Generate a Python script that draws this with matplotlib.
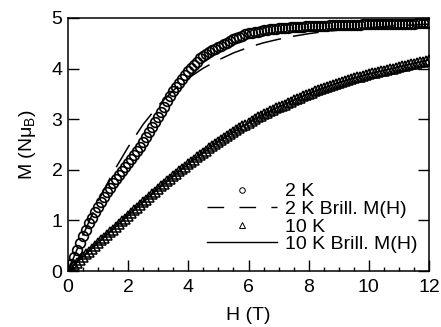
import matplotlib
matplotlib.use('Agg')
import matplotlib.pyplot as plt
from matplotlib.lines import Line2D

plt.rcParams['font.family'] = ['Liberation Sans', 'DejaVu Sans']
plt.rcParams['mathtext.fontset'] = 'custom'
plt.rcParams['mathtext.rm'] = 'Liberation Sans'
plt.rcParams['mathtext.it'] = 'Liberation Sans'
plt.rcParams['mathtext.bf'] = 'Liberation Sans:bold'

# measured field (T), 0.1 T steps
field_t = [
    0.0, 0.1, 0.2, 0.3, 0.4, 0.5, 0.6, 0.7, 0.8, 0.9,
    1.0, 1.1, 1.2, 1.3, 1.4, 1.5, 1.6, 1.7, 1.8, 1.9,
    2.0, 2.1, 2.2, 2.3, 2.4, 2.5, 2.6, 2.7, 2.8, 2.9,
    3.0, 3.1, 3.2, 3.3, 3.4, 3.5, 3.6, 3.7, 3.8, 3.9,
    4.0, 4.1, 4.2, 4.3, 4.4, 4.5, 4.6, 4.7, 4.8, 4.9,
    5.0, 5.1, 5.2, 5.3, 5.4, 5.5, 5.6, 5.7, 5.8, 5.9,
    6.0, 6.1, 6.2, 6.3, 6.4, 6.5, 6.6, 6.7, 6.8, 6.9,
    7.0, 7.1, 7.2, 7.3, 7.4, 7.5, 7.6, 7.7, 7.8, 7.9,
    8.0, 8.1, 8.2, 8.3, 8.4, 8.5, 8.6, 8.7, 8.8, 8.9,
    9.0, 9.1, 9.2, 9.3, 9.4, 9.5, 9.6, 9.7, 9.8, 9.9,
    10.0, 10.1, 10.2, 10.3, 10.4, 10.5, 10.6, 10.7, 10.8, 10.9,
    11.0, 11.1, 11.2, 11.3, 11.4, 11.5, 11.6, 11.7, 11.8, 11.9,
    12.0,
]

m_2k = [
    0.00, 0.14, 0.28, 0.42, 0.56, 0.69, 0.82, 0.94, 1.05, 1.16,
    1.27, 1.37, 1.47, 1.56, 1.65, 1.73, 1.81, 1.89, 1.97, 2.05,
    2.13, 2.21, 2.29, 2.37, 2.46, 2.55, 2.65, 2.75, 2.85, 2.95,
    3.05, 3.15, 3.25, 3.35, 3.45, 3.55, 3.64, 3.72, 3.80, 3.88,
    3.95, 4.02, 4.08, 4.14, 4.20, 4.25, 4.29, 4.33, 4.36, 4.39,
    4.42, 4.45, 4.48, 4.51, 4.55, 4.58, 4.60, 4.63, 4.65, 4.68,
    4.70, 4.71, 4.72, 4.73, 4.75, 4.76, 4.77, 4.78, 4.78, 4.79,
    4.80, 4.80, 4.81, 4.81, 4.82, 4.82, 4.82, 4.83, 4.83, 4.84,
    4.84, 4.84, 4.84, 4.85, 4.85, 4.85, 4.85, 4.86, 4.86, 4.86,
    4.86, 4.86, 4.86, 4.87, 4.87, 4.87, 4.87, 4.87, 4.88, 4.88,
    4.88, 4.88, 4.88, 4.88, 4.88, 4.89, 4.89, 4.89, 4.89, 4.89,
    4.89, 4.89, 4.89, 4.89, 4.89, 4.89, 4.90, 4.90, 4.90, 4.90,
    4.90,
]

m_10k = [
    0.000, 0.055, 0.110, 0.165, 0.220, 0.280, 0.330, 0.385, 0.440, 0.495,
    0.550, 0.605, 0.660, 0.710, 0.765, 0.820, 0.875, 0.930, 0.985, 1.035,
    1.090, 1.145, 1.200, 1.250, 1.305, 1.360, 1.410, 1.465, 1.515, 1.570,
    1.620, 1.670, 1.720, 1.770, 1.820, 1.870, 1.920, 1.970, 2.015, 2.065,
    2.110, 2.155, 2.200, 2.250, 2.295, 2.340, 2.380, 2.425, 2.465, 2.510,
    2.550, 2.590, 2.630, 2.670, 2.710, 2.750, 2.785, 2.825, 2.860, 2.895,
    2.930, 2.965, 3.000, 3.035, 3.065, 3.100, 3.130, 3.160, 3.185, 3.215,
    3.240, 3.265, 3.290, 3.320, 3.345, 3.370, 3.395, 3.420, 3.450, 3.475,
    3.500, 3.525, 3.550, 3.570, 3.595, 3.620, 3.640, 3.660, 3.680, 3.700,
    3.720, 3.740, 3.755, 3.775, 3.790, 3.810, 3.825, 3.840, 3.860, 3.875,
    3.890, 3.905, 3.920, 3.930, 3.945, 3.960, 3.975, 3.990, 4.000, 4.015,
    4.030, 4.045, 4.060, 4.070, 4.085, 4.100, 4.115, 4.130, 4.140, 4.155,
    4.170,
]

# Brillouin curves
brill_2k_h = [0.0, 0.5, 1.0, 1.5, 2.0, 2.5, 3.0, 3.5, 4.0, 4.5, 5.0, 5.5,
              6.0, 6.5, 7.0, 7.5, 8.0, 8.5, 9.0, 9.5, 10.0, 10.5, 11.0, 11.5, 12.0]
brill_2k_m = [0.00, 0.71, 1.38, 1.95, 2.45, 2.90, 3.27, 3.57, 3.81, 4.01, 4.17, 4.31,
              4.42, 4.51, 4.58, 4.64, 4.69, 4.73, 4.76, 4.79, 4.81, 4.83, 4.85, 4.86, 4.88]

brill_10k_h = [0, 1, 2, 3, 4, 5, 6, 7, 8, 9, 10, 11, 12]
brill_10k_m = [0.00, 0.55, 1.09, 1.62, 2.11, 2.55, 2.93, 3.24, 3.50, 3.72, 3.89, 4.03, 4.17]

labels = ['2 K', '2 K Brill. M(H)', '10 K', '10 K Brill. M(H)']

fig = plt.figure(figsize=(4.41, 3.27), dpi=100)
ax = fig.add_axes([68/441, 1 - 271/327, 361/441, 253/327])

ax.plot(brill_10k_h, brill_10k_m, color='k', lw=1.0, zorder=1)
ax.plot(field_t, m_10k, ls='none', marker='^', ms=6.5, mfc='none', mec='k', mew=1.1, zorder=2)
ax.plot(field_t, m_2k, ls='none', marker='o', ms=7, mfc='none', mec='k', mew=1.2, zorder=2)
ax.plot(brill_2k_h, brill_2k_m, color='k', lw=1.1, dashes=(17, 8), zorder=3)

ax.set_xlim(0, 12)
ax.set_ylim(0, 5)
ax.set_xticks([0, 2, 4, 6, 8, 10, 12])
ax.set_xticks([i * 0.5 for i in range(25)], minor=True)
ax.set_yticks([0, 1, 2, 3, 4, 5])
ax.tick_params(axis='both', which='both', direction='in', labelsize=14, width=1.0)
ax.tick_params(axis='x', which='major', length=8, pad=6, top=False)
ax.tick_params(axis='x', which='minor', length=3, top=False)
ax.tick_params(axis='y', which='major', length=8, pad=4, right=True)
for s in ax.spines.values():
    s.set_linewidth(1.1)

ax.set_xlabel('H (T)', fontsize=14, labelpad=8)
ax.set_ylabel(r'M (N$\mu_\mathrm{B}$)', fontsize=14, labelpad=10)

handles = [
    Line2D([], [], ls='none', marker='o', ms=4, mfc='none', mec='k', mew=0.7),
    Line2D([], [], color='k', lw=1.0, dashes=(12, 11)),
    Line2D([], [], ls='none', marker='^', ms=4, mfc='none', mec='k', mew=0.7),
    Line2D([], [], color='k', lw=1.0),
]
ax.legend(handles, labels, loc='lower left', bbox_to_anchor=(0.385, 0.07),
          frameon=False, fontsize=14, handlelength=3.6, handletextpad=0.4,
          labelspacing=0.0, borderpad=0, borderaxespad=0)

fig.savefig('out.png', dpi=100)
